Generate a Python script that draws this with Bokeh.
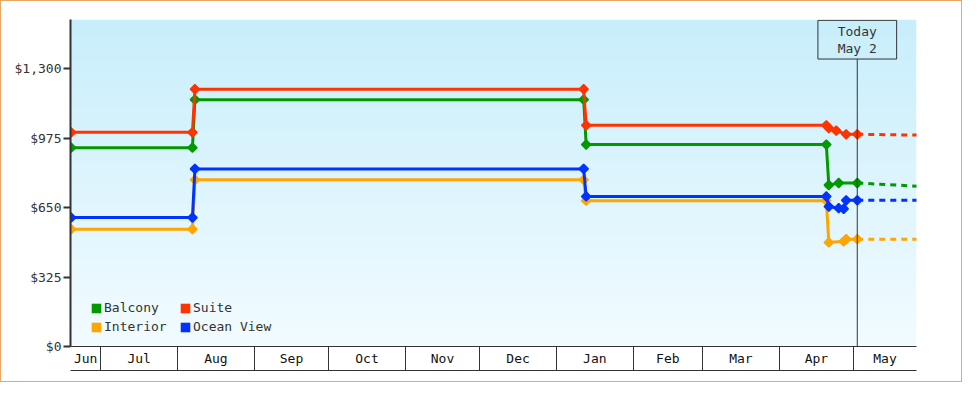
import numpy as np
import pandas as pd
from bokeh.plotting import figure
from bokeh.models import (LinearAxis, FixedTicker, NumeralTickFormatter, Range1d,
                          Legend, LegendItem, Label, BoxAnnotation)
from bokeh.embed import file_html
from bokeh.resources import INLINE

# ---------------- data ----------------
range_start = "2012-06-18 18:00"
range_end = "2013-05-26 10:00"
today = "2013-05-02 12:00"
today_text = ["Today", "May 2"]

month_names = ["Jun", "Jul", "Aug", "Sep", "Oct", "Nov", "Dec", "Jan", "Feb", "Mar", "Apr", "May"]
month_starts = ["2012-06-01", "2012-07-01", "2012-08-01", "2012-09-01", "2012-10-01", "2012-11-01",
                "2012-12-01", "2013-01-01", "2013-02-01", "2013-03-01", "2013-04-01", "2013-05-01",
                "2013-06-01"]

y_ticks = [0, 325, 650, 975, 1300]

balcony_dates = ["2012-06-19", "2012-08-07", "2012-08-08", "2013-01-12", "2013-01-13",
                 "2013-04-20", "2013-04-21", "2013-04-25", today]
balcony_prices = [930, 930, 1155, 1155, 945, 945, 755, 765, 765]

suite_dates = ["2012-06-19", "2012-08-07", "2012-08-08", "2013-01-12", "2013-01-13",
               "2013-04-20", "2013-04-21", "2013-04-24", "2013-04-28", today]
suite_prices = [1002, 1002, 1204, 1204, 1035, 1035, 1022, 1010, 993, 993]

interior_dates = ["2012-06-19", "2012-08-07", "2012-08-08", "2013-01-12", "2013-01-13",
                  "2013-04-20", "2013-04-21", "2013-04-27", "2013-04-28", today]
interior_prices = [549, 549, 780, 780, 682, 682, 487, 492, 502, 502]

ocean_dates = ["2012-06-19", "2012-08-07", "2012-08-08", "2013-01-12", "2013-01-13",
               "2013-04-20", "2013-04-21", "2013-04-25", "2013-04-27", "2013-04-28", today]
ocean_prices = [603, 603, 831, 831, 702, 702, 655, 647, 644, 684, 684]

forecast_dates = [today, "2013-05-27"]
balcony_forecast = [765, 750]
suite_forecast = [993, 989]
interior_forecast = [502, 502]
ocean_forecast = [684, 684]

series_names = ["Balcony", "Suite", "Interior", "Ocean View"]
series_colors = ["#009900", "#ff3300", "#ffa500", "#0033ff"]

# ---------------- helpers ----------------
def ms(s):
    return pd.Timestamp(s).value / 1e6

FONT = "DejaVu Sans Mono"
TXT = "#333333"

x0, x1 = ms(range_start), ms(range_end)
y_top = 1530

p = figure(width=962, height=382, output_backend="svg", toolbar_location=None,
           x_range=Range1d(x0, x1), y_range=Range1d(0, y_top),
           x_axis_location=None, y_axis_location="left",
           min_border_left=69, min_border_right=47, min_border_top=18, min_border_bottom=37)
p.styles = {"border": "1px solid #E8A862"}
p.outline_line_color = None
p.xgrid.visible = False
p.ygrid.visible = False
p.background_fill_color = "white"
p.border_fill_color = "white"

# gradient background
n = 64
t = np.linspace(0, 1, n)[:, None]
bottom_c = np.array([242, 251, 255])
top_c = np.array([200, 238, 251])
img = np.empty((n, 1), dtype=np.uint32)
view = img.view(dtype=np.uint8).reshape((n, 1, 4))
for k in range(3):
    view[:, :, k] = np.round(bottom_c[k] + (top_c[k] - bottom_c[k]) * t).astype(np.uint8)
view[:, :, 3] = 255
p.image_rgba(image=[img], x=x0, y=0, dw=x1 - x0, dh=y_top)

# y axis
ya = p.yaxis[0]
ya.ticker = FixedTicker(ticks=y_ticks)
ya.formatter = NumeralTickFormatter(format="$0,0")
ya.major_tick_out = 7
ya.major_tick_in = 0
ya.minor_tick_out = 0
ya.minor_tick_in = 0
ya.axis_line_width = 2
ya.axis_line_color = TXT
ya.major_tick_line_color = TXT
ya.major_tick_line_width = 2
ya.major_label_standoff = 2
ya.major_label_text_font = FONT
ya.major_label_text_font_size = "13px"
ya.major_label_text_color = TXT

# x axis: month boxes
starts = [ms(s) for s in month_starts]
mids, labels = [], {}
for i, name in enumerate(month_names):
    a = max(starts[i], x0)
    b = min(starts[i + 1], x1)
    m = int(round((a + b) / 2))
    mids.append(m)
    labels[m] = name
bounds = [s for s in starts if x0 < s < x1]

xa = LinearAxis(ticker=FixedTicker(ticks=[], minor_ticks=bounds),
                major_tick_out=0, major_tick_in=0,
                minor_tick_out=24, minor_tick_in=0,
                minor_tick_line_color=TXT, minor_tick_line_width=1,
                axis_line_color=TXT, axis_line_width=1,
                major_label_standoff=0)
p.add_layout(xa, "below")
xb = LinearAxis(ticker=FixedTicker(ticks=mids),
                major_label_overrides=labels,
                major_tick_out=0, major_tick_in=0, minor_tick_out=0, minor_tick_in=0,
                axis_line_color=TXT, axis_line_width=1,
                major_label_standoff=-20,
                major_label_text_font=FONT, major_label_text_font_size="13px",
                major_label_text_color="#111111")
p.add_layout(xb, "below")

# series
all_dates = [balcony_dates, suite_dates, interior_dates, ocean_dates]
all_prices = [balcony_prices, suite_prices, interior_prices, ocean_prices]
all_fc = [balcony_forecast, suite_forecast, interior_forecast, ocean_forecast]
fx = [ms(s) for s in forecast_dates]
items = []
for name, col, ds, ps, fc in zip(series_names, series_colors, all_dates, all_prices, all_fc):
    xs = [ms(s) for s in ds]
    p.line(fx, fc, line_color=col, line_width=3, line_dash="6 5")
    p.line(xs, ps, line_color=col, line_width=3)
    p.scatter(xs, ps, marker="square", angle=np.pi / 4, size=6.5,
              fill_color=col, line_color=col, line_width=1.5)
    proxy = p.quad(left=[x0], right=[x0], top=[0], bottom=[0], fill_color=col,
                   line_color=None, visible=False)
    items.append(LegendItem(label=name, renderers=[proxy]))

legend = Legend(items=items, location=(20, 10), orientation="horizontal", ncols=2,
                glyph_width=12, glyph_height=12, label_standoff=2, spacing=0,
                label_width=75, label_height=19, padding=0, margin=0,
                background_fill_alpha=0, border_line_color=None,
                inactive_fill_alpha=0,
                label_text_font=FONT, label_text_font_size="13px", label_text_color=TXT)
p.add_layout(legend, "center")

# today marker
tx = ms(today)
box_bottom = 1345
half = 15.9 * 86400000
p.segment(x0=[tx], y0=[0], x1=[tx], y1=[box_bottom], line_color=TXT, line_width=1)
p.add_layout(BoxAnnotation(left=tx - half, right=tx + half, bottom=box_bottom, top=1526,
                           fill_alpha=0, line_color=TXT, line_alpha=1, line_width=1))
p.add_layout(Label(x=tx, y=1473, text=today_text[0], text_align="center", text_baseline="middle",
                   text_font=FONT, text_font_size="13px", text_color=TXT))
p.add_layout(Label(x=tx, y=1394, text=today_text[1], text_align="center", text_baseline="middle",
                   text_font=FONT, text_font_size="13px", text_color=TXT))

open("out.html", "w").write(file_html(p, INLINE))
